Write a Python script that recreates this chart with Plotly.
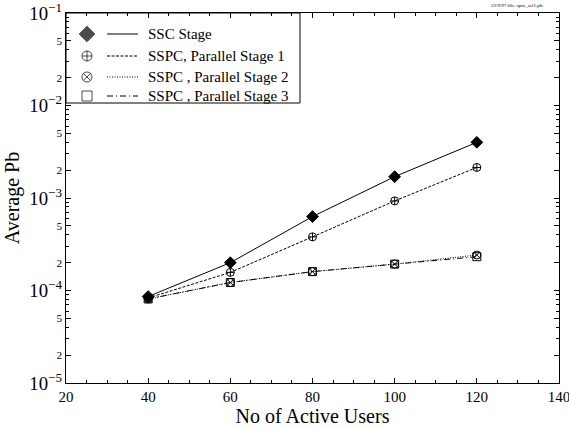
import plotly.graph_objects as go

# Number of active users
users = [40, 60, 80, 100, 120]

# Average bit error probability per receiver stage
ssc_stage = [8.6e-5, 2.0e-4, 6.3e-4, 1.7e-3, 4.0e-3]
sspc_stage1 = [8.3e-5, 1.57e-4, 3.8e-4, 9.3e-4, 2.14e-3]
sspc_stage2 = [8.1e-5, 1.22e-4, 1.6e-4, 1.93e-4, 2.42e-4]
sspc_stage3 = [8.1e-5, 1.22e-4, 1.6e-4, 1.93e-4, 2.32e-4]

series_names = ["SSC Stage", "SSPC, Parallel Stage 1",
                "SSPC , Parallel Stage 2", "SSPC , Parallel Stage 3"]
series_values = [ssc_stage, sspc_stage1, sspc_stage2, sspc_stage3]
dashes = ["solid", "3px,1.5px", "1px,1.5px", "6px,3px,1px,3px"]
symbols = ["diamond", "circle-cross-open", "circle-x-open", "square-open"]
sizes = [9, 8, 8, 8]

FONT = "Liberation Serif, Times New Roman, serif"
W, H = 569, 428
L, R, T, B = 66, 10, 13, 45
PW, PH = W - L - R, H - T - B


def px(x):
    return (x - L) / PW


def py(y):
    return (H - B - y) / PH


fig = go.Figure()

for name, vals, dash, sym, sz in zip(series_names, series_values, dashes, symbols, sizes):
    fig.add_trace(go.Scatter(
        x=users, y=vals, name=name, mode="lines+markers",
        line=dict(color="black", width=1, dash=dash),
        marker=dict(symbol=sym, size=sz, color="black",
                    line=dict(color="black", width=1)),
        showlegend=False,
    ))

# Hand-built key: marker, short line sample, label
row_y = [34, 56, 77, 96]
key_x = [px(87)] * 4
key_y = [py(v) for v in row_y]
for i, (name, dash) in enumerate(zip(series_names, dashes)):
    fig.add_shape(type="line", xref="paper", yref="paper",
                  x0=px(107), x1=px(138), y0=key_y[i], y1=key_y[i],
                  line=dict(color="black", width=1, dash=dash))
    fig.add_annotation(xref="paper", yref="paper", x=px(146), y=key_y[i],
                       text=name, showarrow=False, xanchor="left", yanchor="middle",
                       font=dict(family=FONT, size=15, color="black"))
fig.add_trace(go.Scatter(
    x=key_x, y=key_y, xaxis="x2", yaxis="y2", mode="markers",
    marker=dict(symbol=symbols, size=[12, 10, 10, 10], color="black",
                line=dict(color="black", width=1)),
    showlegend=False, hoverinfo="skip", cliponaxis=False,
))
fig.add_shape(type="rect", xref="paper", yref="paper",
              x0=0, x1=px(300), y0=py(103), y1=1,
              line=dict(color="black", width=1), fillcolor="white", layer="below")

fig.add_annotation(xref="paper", yref="paper", x=px(545), y=py(5),
                   text="22/9/97 file: spsc_sel1.plt", showarrow=False,
                   xanchor="right", yanchor="middle",
                   font=dict(family=FONT, size=5, color="black"))

axis_common = dict(
    showline=True, linecolor="black", linewidth=1, mirror="allticks",
    ticks="inside", tickcolor="black", showgrid=False, zeroline=False,
    ticklabeloverflow="allow", automargin=False,
    tickfont=dict(family=FONT, size=15, color="black"),
)

fig.update_layout(
    width=W, height=H,
    margin=dict(l=L, r=R, t=T, b=B),
    paper_bgcolor="white", plot_bgcolor="rgba(0,0,0,0)",
    font=dict(family=FONT, color="black"),
    xaxis=dict(
        range=[20, 140], dtick=20, ticklen=5,
        minor=dict(dtick=5, ticklen=3, ticks="inside", tickcolor="black"),
        title=dict(text="No of Active Users", font=dict(family=FONT, size=20), standoff=2),
        **axis_common,
    ),
    yaxis=dict(
        type="log", range=[-5, -1], dtick="D2", exponentformat="power", ticklen=5,
        minor=dict(dtick="D1", ticklen=3, ticks="inside", tickcolor="black"),
        title=dict(text="Average Pb", font=dict(family=FONT, size=20), standoff=4),
        **axis_common,
    ),
    xaxis2=dict(domain=[0, 1], range=[0, 1], overlaying="x", visible=False, fixedrange=True),
    yaxis2=dict(domain=[0, 1], range=[0, 1], overlaying="y", visible=False, fixedrange=True),
)

fig.write_html("out.html")
